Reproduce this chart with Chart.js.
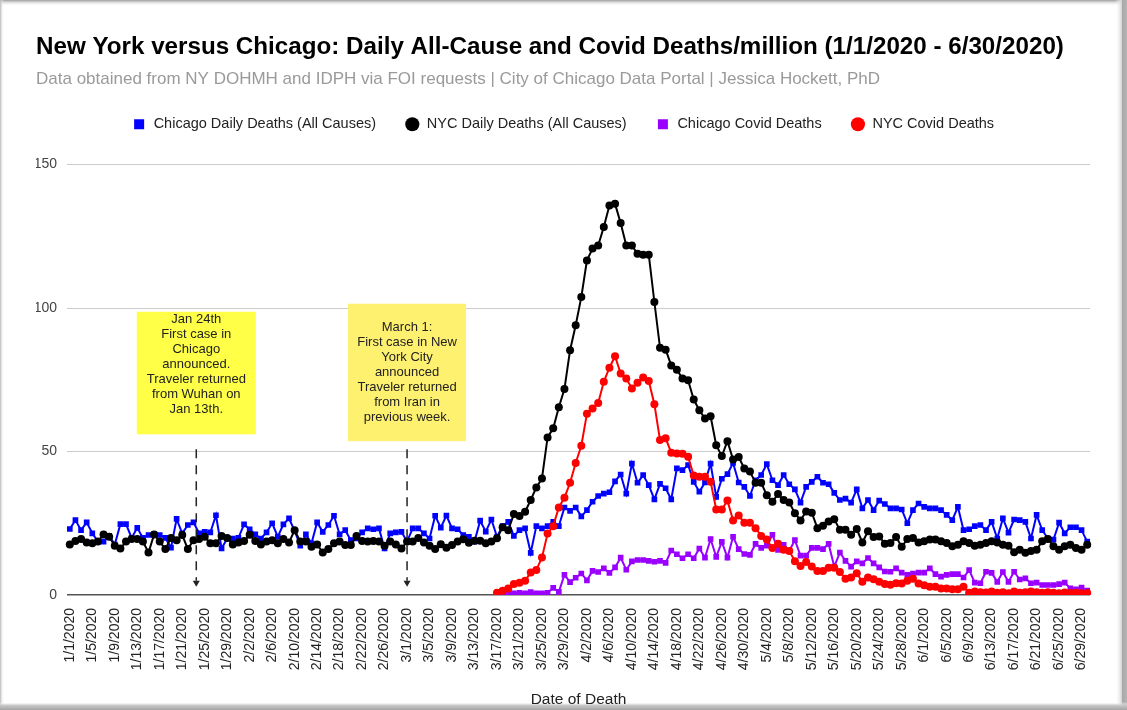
<!DOCTYPE html>
<html>
<head>
<meta charset="utf-8">
<script src="https://cdn.jsdelivr.net/npm/chart.js@4.4.0/dist/chart.umd.min.js"></script>
<style>
html,body{margin:0;padding:0;background:#fff;}
canvas{display:block;}
</style>
</head>
<body>
<canvas id="c" width="1127" height="710"></canvas>
<script>
// ---------- DATA ----------
const categories = [
 '1/1/2020','1/2/2020','1/3/2020','1/4/2020','1/5/2020','1/6/2020','1/7/2020','1/8/2020','1/9/2020','1/10/2020',
 '1/11/2020','1/12/2020','1/13/2020','1/14/2020','1/15/2020','1/16/2020','1/17/2020','1/18/2020','1/19/2020','1/20/2020',
 '1/21/2020','1/22/2020','1/23/2020','1/24/2020','1/25/2020','1/26/2020','1/27/2020','1/28/2020','1/29/2020','1/30/2020',
 '1/31/2020','2/1/2020','2/2/2020','2/3/2020','2/4/2020','2/5/2020','2/6/2020','2/7/2020','2/8/2020','2/9/2020',
 '2/10/2020','2/11/2020','2/12/2020','2/13/2020','2/14/2020','2/15/2020','2/16/2020','2/17/2020','2/18/2020','2/19/2020',
 '2/20/2020','2/21/2020','2/22/2020','2/23/2020','2/24/2020','2/25/2020','2/26/2020','2/27/2020','2/28/2020','2/29/2020',
 '3/1/2020','3/2/2020','3/3/2020','3/4/2020','3/5/2020','3/6/2020','3/7/2020','3/8/2020','3/9/2020','3/10/2020',
 '3/11/2020','3/12/2020','3/13/2020','3/14/2020','3/15/2020','3/16/2020','3/17/2020','3/18/2020','3/19/2020','3/20/2020',
 '3/21/2020','3/22/2020','3/23/2020','3/24/2020','3/25/2020','3/26/2020','3/27/2020','3/28/2020','3/29/2020','3/30/2020',
 '3/31/2020','4/1/2020','4/2/2020','4/3/2020','4/4/2020','4/5/2020','4/6/2020','4/7/2020','4/8/2020','4/9/2020',
 '4/10/2020','4/11/2020','4/12/2020','4/13/2020','4/14/2020','4/15/2020','4/16/2020','4/17/2020','4/18/2020','4/19/2020',
 '4/20/2020','4/21/2020','4/22/2020','4/23/2020','4/24/2020','4/25/2020','4/26/2020','4/27/2020','4/28/2020','4/29/2020',
 '4/30/2020','5/1/2020','5/2/2020','5/3/2020','5/4/2020','5/5/2020','5/6/2020','5/7/2020','5/8/2020','5/9/2020',
 '5/10/2020','5/11/2020','5/12/2020','5/13/2020','5/14/2020','5/15/2020','5/16/2020','5/17/2020','5/18/2020','5/19/2020',
 '5/20/2020','5/21/2020','5/22/2020','5/23/2020','5/24/2020','5/25/2020','5/26/2020','5/27/2020','5/28/2020','5/29/2020',
 '5/30/2020','5/31/2020','6/1/2020','6/2/2020','6/3/2020','6/4/2020','6/5/2020','6/6/2020','6/7/2020','6/8/2020',
 '6/9/2020','6/10/2020','6/11/2020','6/12/2020','6/13/2020','6/14/2020','6/15/2020','6/16/2020','6/17/2020','6/18/2020',
 '6/19/2020','6/20/2020','6/21/2020','6/22/2020','6/23/2020','6/24/2020','6/25/2020','6/26/2020','6/27/2020','6/28/2020',
 '6/29/2020','6/30/2020'
];

const tickLabels = [
 '1/1/2020','1/5/2020','1/9/2020','1/13/2020','1/17/2020','1/21/2020','1/25/2020','1/29/2020',
 '2/2/2020','2/6/2020','2/10/2020','2/14/2020','2/18/2020','2/22/2020','2/26/2020',
 '3/1/2020','3/5/2020','3/9/2020','3/13/2020','3/17/2020','3/21/2020','3/25/2020','3/29/2020',
 '4/2/2020','4/6/2020','4/10/2020','4/14/2020','4/18/2020','4/22/2020','4/26/2020','4/30/2020',
 '5/4/2020','5/8/2020','5/12/2020','5/16/2020','5/20/2020','5/24/2020','5/28/2020',
 '6/1/2020','6/5/2020','6/9/2020','6/13/2020','6/17/2020','6/21/2020','6/25/2020','6/29/2020'
];

const yTicks = [0, 50, 100, 150];

const chicagoAll = [
 23.0,26.1,22.6,25.3,21.5,18.6,18.6,20.6,17.6,24.7,
 24.7,19.9,23.4,19.9,20.9,21.1,20.9,19.9,16.5,26.5,
 21.5,24.4,25.3,21.5,22.0,21.8,27.8,16.2,19.7,19.7,
 19.9,24.6,22.9,21.1,19.7,21.8,25.0,20.3,24.6,26.7,
 22.3,17.2,21.1,18.0,25.3,22.0,24.4,27.6,21.1,22.6,
 19.1,19.7,21.8,23.2,22.9,23.2,16.2,21.5,21.8,22.0,
 18.6,23.2,23.2,21.5,19.7,27.6,23.5,27.7,23.2,22.9,
 20.9,20.3,18.6,25.9,22.1,26.3,20.3,24.0,25.5,20.6,
 22.6,23.2,14.7,24.0,23.2,24.0,25.5,24.0,30.5,29.3,
 30.5,27.4,29.6,32.5,34.5,35.3,35.8,39.6,42.0,35.3,
 45.8,39.1,41.8,38.3,33.3,38.7,37.2,33.3,44.1,43.5,
 45.3,39.4,36.0,39.2,45.8,34.2,40.5,42.1,46.0,39.2,
 37.7,34.5,40.0,41.8,45.6,40.0,38.3,41.8,38.6,36.8,
 32.2,37.7,39.4,41.2,39.1,38.6,35.6,33.1,33.6,32.2,
 36.8,30.2,33.1,29.6,32.9,31.7,30.2,30.2,29.8,25.0,
 29.6,31.9,30.7,30.2,30.2,29.6,27.9,26.1,30.7,22.6,
 22.9,24.0,24.4,22.6,25.5,19.7,26.7,21.7,26.3,26.1,
 25.5,19.7,27.9,22.6,19.7,19.3,25.2,21.5,23.6,23.6,
 22.6,18.6
];

const nycAll = [
 17.6,18.8,19.5,18.3,18.0,18.6,21.1,20.3,17.2,16.2,
 18.6,19.5,19.5,18.6,14.8,21.1,18.6,16.0,19.9,19.1,
 20.9,16.0,19.1,19.5,20.3,18.0,18.0,20.6,19.9,17.6,
 18.3,18.8,21.0,18.8,17.6,18.6,19.1,18.0,19.5,18.3,
 22.6,18.6,18.6,16.8,17.6,14.8,16.0,18.0,18.6,17.4,
 17.4,20.6,18.8,18.6,18.8,18.6,17.2,18.6,17.6,16.2,
 18.6,18.6,19.9,18.3,17.2,16.0,17.7,16.5,17.4,18.6,
 19.4,18.2,18.9,18.9,18.0,18.6,19.8,23.6,22.6,28.2,
 27.5,29.0,33.1,37.5,40.6,54.9,58.1,65.4,71.8,85.3,
 94.0,103.8,116.6,120.7,121.8,128.2,135.7,136.3,129.6,121.8,
 121.8,118.9,118.6,118.6,102.1,86.2,85.5,80.0,78.5,75.4,
 74.8,68.1,64.4,61.5,62.3,52.2,48.4,53.6,47.2,48.1,
 44.1,43.0,39.1,39.1,34.8,32.5,35.2,33.1,32.2,28.5,
 26.0,29.1,28.7,23.3,24.1,25.6,26.4,22.7,22.7,21.0,
 23.0,18.3,22.2,20.2,20.4,17.9,18.1,20.2,16.8,19.5,
 19.9,18.3,18.7,19.3,19.3,18.7,18.1,17.0,17.5,18.7,
 18.1,17.2,17.5,18.1,18.7,18.3,17.5,17.2,14.9,15.8,
 14.7,15.3,15.8,18.7,19.5,17.0,15.8,17.0,17.5,16.4,
 15.8,17.5
];

const chicagoCovid = [
 null,null,null,null,null,null,null,null,null,null,
 null,null,null,null,null,null,null,null,null,null,
 null,null,null,null,null,null,null,null,null,null,
 null,null,null,null,null,null,null,null,null,null,
 null,null,null,null,null,null,null,null,null,null,
 null,null,null,null,null,null,null,null,null,null,
 null,null,null,null,null,null,null,null,null,null,
 null,null,null,null,null,null,null,0.3,0.4,0.6,
 0.8,0.6,1.0,0.6,0.6,0.8,2.5,1.1,7.0,4.5,
 6.0,7.5,5.1,8.4,8.0,9.3,7.7,9.6,13.0,8.8,
 11.7,12.2,12.2,11.9,11.6,11.9,11.2,15.5,14.2,12.8,
 14.2,12.8,16.2,13.0,19.5,13.3,18.5,13.0,20.3,16.0,
 14.3,14.0,17.8,16.4,17.2,21.0,15.7,17.5,15.4,19.1,
 13.7,13.7,16.4,16.4,16.0,17.8,9.9,14.8,11.9,9.9,
 11.7,11.0,12.9,11.0,9.6,8.2,8.1,9.3,7.8,7.0,
 7.5,7.8,7.8,9.3,7.3,6.4,7.0,7.3,7.3,6.1,
 8.7,4.3,4.1,8.1,7.7,4.6,8.0,4.6,8.1,5.4,
 5.8,4.1,4.3,3.5,3.5,3.5,3.8,4.3,2.3,2.0,
 2.6,1.5
];

const nycCovid = [
 null,null,null,null,null,null,null,null,null,null,
 null,null,null,null,null,null,null,null,null,null,
 null,null,null,null,null,null,null,null,null,null,
 null,null,null,null,null,null,null,null,null,null,
 null,null,null,null,null,null,null,null,null,null,
 null,null,null,null,null,null,null,null,null,null,
 null,null,null,null,null,null,null,null,null,null,
 null,null,null,null,null,null,0.8,1.5,2.3,3.8,
 4.3,5.0,7.8,8.7,13.1,21.4,24.0,30.5,33.9,39.1,
 46.0,52.0,63.2,65.0,66.9,74.3,79.2,83.2,77.2,75.4,
 72.0,74.0,75.8,74.6,66.5,54.0,54.6,49.6,49.3,49.2,
 48.2,41.6,41.2,41.2,39.5,29.8,29.8,32.9,26.0,27.7,
 25.2,25.2,23.3,20.6,19.3,16.4,17.9,15.8,15.3,11.8,
 10.1,11.5,9.9,8.4,8.4,9.5,9.5,8.0,5.7,6.1,
 7.6,4.6,6.1,5.5,4.6,3.8,3.6,4.1,4.0,5.0,
 5.7,4.0,3.4,2.9,2.9,2.3,2.3,2.0,2.0,2.9,
 0.8,1.2,1.0,0.9,1.2,0.8,1.0,0.6,1.2,0.8,
 1.0,1.2,1.0,0.8,1.0,0.8,0.6,0.9,0.7,0.8,
 0.6,0.7
];

const seriesNames = ['Chicago Daily Deaths (All Causes)','NYC Daily Deaths (All Causes)','Chicago Covid Deaths','NYC Covid Deaths'];

const notes = [
  { date: '1/24/2020', shift: -0.5, boxTop: 98.7, boxBottom: 56.0, arrowFrom: 50.8, arrowTo: 2.9,
    lines: ['Jan 24th','First case in','Chicago','announced.','Traveler returned','from Wuhan on','Jan 13th.'] },
  { date: '3/1/2020', shift: 0, boxTop: 101.5, boxBottom: 53.6, arrowFrom: 50.8, arrowTo: 2.9,
    lines: ['March 1:','First case in New','York City','announced','Traveler returned','from Iran in','previous week.'] }
];
const noteStyles = [
  { fill: '#ffff47', width: 119, firstLine: 8 },
  { fill: '#fff170', width: 118, firstLine: 23.5 }
];

// ---------- PLUGINS ----------
const FONT = '"Liberation Sans", Arial, Helvetica, sans-serif';
Chart.defaults.font.family = FONT;

const framePlugin = {
  id: 'frame',
  beforeDraw(chart) {
    const {ctx, width, height} = chart;
    ctx.save();
    ctx.fillStyle = '#ffffff';
    ctx.fillRect(0, 0, width, height);
    let g = ctx.createLinearGradient(0, 0, 0, 6);
    g.addColorStop(0, '#9c9c9c'); g.addColorStop(1, 'rgba(255,255,255,0)');
    ctx.fillStyle = g; ctx.fillRect(0, 0, width, 6);
    g = ctx.createLinearGradient(0, 0, 4, 0);
    g.addColorStop(0, '#b8b8b8'); g.addColorStop(1, 'rgba(255,255,255,0)');
    ctx.fillStyle = g; ctx.fillRect(0, 0, 4, height);
    g = ctx.createLinearGradient(width - 12, 0, width, 0);
    g.addColorStop(0, 'rgba(255,255,255,0)'); g.addColorStop(0.55, '#d6d6d6'); g.addColorStop(0.6, '#a8a8a8'); g.addColorStop(1, '#b4b4b4');
    ctx.fillStyle = g; ctx.fillRect(width - 12, 0, 12, height);
    g = ctx.createLinearGradient(0, height - 8, 0, height);
    g.addColorStop(0, 'rgba(255,255,255,0)'); g.addColorStop(0.4, '#c8c8c8'); g.addColorStop(1, '#a4a4a4');
    ctx.fillStyle = g; ctx.fillRect(0, height - 8, width, 8);
    ctx.restore();
  }
};

const notesPlugin = {
  id: 'notes',
  afterDatasetsDraw(chart) {
    const {ctx, scales: {x, y}} = chart;
    notes.forEach((n, k) => {
      const st = noteStyles[k];
      const cx = x.getPixelForValue(categories.indexOf(n.date) + n.shift);
      const top = y.getPixelForValue(n.boxTop);
      const bottom = y.getPixelForValue(n.boxBottom);
      ctx.save();
      ctx.fillStyle = st.fill;
      ctx.fillRect(cx - st.width / 2, top, st.width, bottom - top);
      ctx.fillStyle = '#222';
      ctx.font = '13px ' + FONT;
      ctx.textAlign = 'center';
      ctx.textBaseline = 'middle';
      n.lines.forEach((t, i) => ctx.fillText(t, cx, top + st.firstLine + i * 15));
      const a0 = y.getPixelForValue(n.arrowFrom);
      const a1 = y.getPixelForValue(n.arrowTo);
      ctx.strokeStyle = '#222';
      ctx.lineWidth = 1.5;
      ctx.setLineDash([9, 7]);
      ctx.beginPath(); ctx.moveTo(cx, a0); ctx.lineTo(cx, a1 - 6); ctx.stroke();
      ctx.setLineDash([]);
      ctx.beginPath(); ctx.moveTo(cx - 3.5, a1 - 6); ctx.lineTo(cx + 3.5, a1 - 6); ctx.lineTo(cx, a1); ctx.closePath(); ctx.fill();
      ctx.restore();
    });
  }
};

// ---------- CHART ----------
function ds(label, data, color, style, radius, order) {
  return { label, data, xAxisID: 'x', yAxisID: 'y', borderColor: color, backgroundColor: color,
    pointBackgroundColor: color, pointBorderColor: color,
    pointStyle: style, pointRadius: radius, pointBorderWidth: 0, borderWidth: 2, tension: 0, order, spanGaps: false };
}

new Chart(document.getElementById('c').getContext('2d'), {
  type: 'line',
  data: {
    labels: categories,
    datasets: [
      ds(seriesNames[0], chicagoAll, '#0000ff', 'rect', 4, 3),
      ds(seriesNames[1], nycAll, '#000000', 'circle', 4, 2),
      ds(seriesNames[2], chicagoCovid, '#9900ff', 'rect', 4, 1),
      ds(seriesNames[3], nycCovid, '#ff0000', 'circle', 4, 0)
    ]
  },
  options: {
    responsive: false,
    animation: false,
    devicePixelRatio: 1,
    layout: { padding: { left: 36, right: 37, top: 0, bottom: 0 } },
    plugins: {
      title: {
        display: true, align: 'start', color: '#000',
        text: 'New York versus Chicago: Daily All-Cause and Covid Deaths/million (1/1/2020 - 6/30/2020)',
        font: { size: 24.2, weight: 'bold', lineHeight: 1.2 }, padding: { top: 33, bottom: 9 }
      },
      subtitle: {
        display: true, align: 'start', color: '#9a9a9a',
        text: 'Data obtained from NY DOHMH and IDPH via FOI requests | City of Chicago Data Portal | Jessica Hockett, PhD',
        font: { size: 17, lineHeight: 1 }, padding: { top: 0, bottom: 0 }
      },
      legend: {
        display: true, position: 'top', align: 'center',
        labels: {
          usePointStyle: true, boxHeight: 10, padding: 29, color: '#222', font: { size: 14.5 },
          sort: (a, b) => a.datasetIndex - b.datasetIndex,
          generateLabels: (chart) => Chart.defaults.plugins.legend.labels.generateLabels(chart).map(l => Object.assign(l, { lineWidth: 0 }))
        }
      },
      tooltip: { enabled: false }
    },
    scales: {
      x: {
        offset: true,
        grid: { display: false }, border: { display: false },
        ticks: {
          autoSkip: false, maxRotation: 90, minRotation: 90, padding: 5, color: '#222', font: { size: 14 },
          callback: (v, i) => tickLabels.includes(categories[i]) ? categories[i] : null
        },
        title: { display: true, text: 'Date of Death', color: '#222', font: { size: 15.5 }, padding: { top: 0, bottom: 1 } },
        afterFit: (s) => { s.height = 115; }
      },
      y: {
        min: 0, max: 150,
        afterBuildTicks: (s) => { s.ticks = yTicks.map(v => ({ value: v })); },
        ticks: { padding: 10, color: '#444', font: { size: 14 } },
        grid: { color: (c) => c.tick && c.tick.value === 0 ? '#555555' : '#cccccc', lineWidth: (c) => c.tick && c.tick.value === 0 ? 1.5 : 1, drawTicks: false },
        border: { display: false },
        afterFit: (s) => { s.width = 31; }
      },
      xTop: {
        type: 'linear', position: 'top', display: true,
        grid: { display: false }, border: { display: false }, ticks: { display: false },
        afterFit: (s) => { s.height = 23; }
      }
    }
  },
  plugins: [framePlugin, notesPlugin]
});
</script>
</body>
</html>
